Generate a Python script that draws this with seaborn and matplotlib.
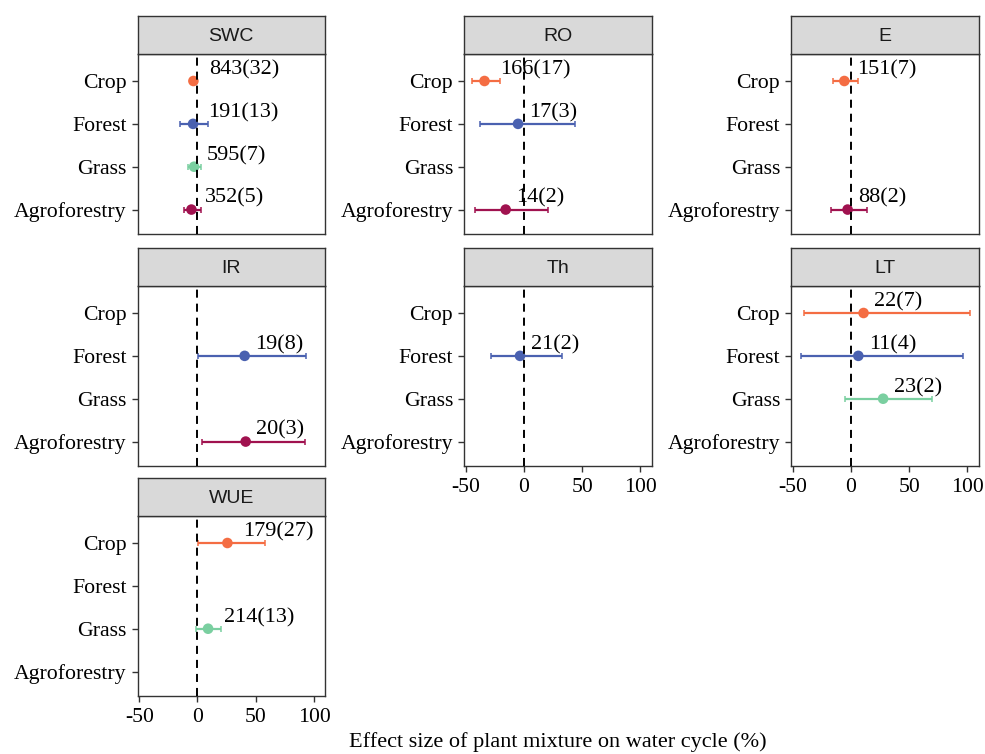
import numpy as np
import pandas as pd
import matplotlib
matplotlib.use("Agg")
import matplotlib.pyplot as plt
import seaborn as sns

# ---------------- data ----------------
responses = ["SWC", "RO", "E", "IR", "Th", "LT", "WUE"]
systems = ["Crop", "Forest", "Grass", "Agroforestry"]

resp = ["SWC", "SWC", "SWC", "SWC",
        "RO", "RO", "RO",
        "E", "E",
        "IR", "IR",
        "Th",
        "LT", "LT", "LT",
        "WUE", "WUE"]
system = ["Crop", "Forest", "Grass", "Agroforestry",
          "Crop", "Forest", "Agroforestry",
          "Crop", "Agroforestry",
          "Forest", "Agroforestry",
          "Forest",
          "Crop", "Forest", "Grass",
          "Crop", "Grass"]
mean = [-3.5, -3.8, -2.9, -5.2,
        -33.9, -5.1, -15.7,
        -5.7, -2.9,
        40.5, 41.4,
        -3.4,
        10.8, 6.3, 27.6,
        25.7, 9.1]
lower = [-6.5, -15.2, -8.0, -12.0,
         -44.8, -37.4, -41.7,
         -15.7, -17.1,
         0.5, 4.3,
         -28.6,
         -40.4, -43.3, -4.9,
         0.5, -0.9]
upper = [-0.5, 9.1, 3.4, 2.8,
         -20.4, 44.1, 20.3,
         6.3, 13.7,
         93.4, 92.5,
         32.3,
         102.6, 96.3, 69.8,
         57.7, 20.0]
labels = ["843(32)", "191(13)", "595(7)", "352(5)",
          "166(17)", "17(3)", "14(2)",
          "151(7)", "88(2)",
          "19(8)", "20(3)",
          "21(2)",
          "22(7)", "11(4)", "23(2)",
          "179(27)", "214(13)"]
xticks = [-50, 0, 50, 100]
xlabel = "Effect size of plant mixture on water cycle (%)"

palette = {"Crop": "#F46D43", "Forest": "#4A61B0",
           "Grass": "#7ACFA0", "Agroforestry": "#A0124F"}

# ---------------- style ----------------
sns.set_theme(style="white")
plt.rcParams['font.family'] = ['Liberation Serif', 'DejaVu Serif']
plt.rcParams['lines.scale_dashes'] = False

W, H = 985, 754
fig = plt.figure(figsize=(W / 100, H / 100), dpi=100)

df = pd.DataFrame({"resp": resp, "system": system, "mean": mean,
                   "lower": lower, "upper": upper, "label": labels})
df["ypos"] = df["system"].map({s: i for i, s in enumerate(systems)})

col_left = [137.5, 464.0, 791.0]
panel_w = 187.5
row_top = [54.0, 286.0, 516.0]
panel_h = 180.0
strip_h = 38.0
edge = "#333333"
bottom_panels = {"WUE", "Th", "LT"}

anns = []
for k, r in enumerate(responses):
    row, col = divmod(k, 3)
    l = col_left[col]
    t = row_top[row]
    ax = fig.add_axes([l / W, 1 - (t + panel_h) / H, panel_w / W, panel_h / H])
    sax = fig.add_axes([l / W, 1 - t / H, panel_w / W, strip_h / H])

    sub = df[df["resp"] == r]
    for _, d in sub.iterrows():
        ax.errorbar(x=d["mean"], y=d["ypos"],
                    xerr=[[d["mean"] - d["lower"]], [d["upper"] - d["mean"]]],
                    fmt="none", ecolor=palette[d["system"]], elinewidth=1.6,
                    capsize=2.5, capthick=1.1, zorder=2)
    sns.scatterplot(data=sub, x="mean", y="ypos", hue="system", palette=palette,
                    s=58, edgecolor="none", linewidth=0, legend=False, ax=ax, zorder=3)
    ax.axvline(0, color="black", lw=1.4, dashes=(5.8, 4.3), zorder=5)

    for _, d in sub.iterrows():
        a = ax.annotate(d["label"], xy=(d["mean"], d["ypos"]), xytext=(0, 6.7),
                        textcoords="offset pixels", ha="left", va="baseline",
                        fontsize=16, color="black", zorder=4)
        anns.append(a)

    ax.set_xlim(-51.5, 109.5)
    ax.set_ylim(3.57, -0.63)
    ax.set_yticks(range(len(systems)))
    ax.set_yticklabels(systems)
    ax.set_xticks(xticks)
    ax.set_xticklabels([str(v) for v in xticks])
    ax.set_xlabel("")
    ax.set_ylabel("")
    for sp in ax.spines.values():
        sp.set_color(edge)
        sp.set_linewidth(1.0)
    ax.tick_params(axis="both", length=4.3, width=1.0, color=edge,
                   labelsize=15.7, labelcolor="black", direction="out")
    ax.tick_params(axis="y", pad=3.6, left=True)
    ax.tick_params(axis="x", pad=4.0, bottom=True)
    if r not in bottom_panels:
        ax.tick_params(axis="x", bottom=False, labelbottom=False)
    ax.set_facecolor("white")

    sax.set_facecolor("#D9D9D9")
    sax.set_xticks([])
    sax.set_yticks([])
    for sp in sax.spines.values():
        sp.set_color(edge)
        sp.set_linewidth(1.0)
    sax.text(0.5, 0.47, r, ha="center", va="center", fontsize=14,
             family=["Liberation Sans", "DejaVu Sans"], color="#1A1A1A",
             transform=sax.transAxes)

fig.text(558 / W, 1 - 742 / H, xlabel, ha="center", va="center", fontsize=16,
         color="black")

fig.canvas.draw()
renderer = fig.canvas.get_renderer()
for a in anns:
    w = a.get_window_extent(renderer).width
    a.xyann = (0.22 * w, 6.7)

fig.savefig("out.png", dpi=100)
